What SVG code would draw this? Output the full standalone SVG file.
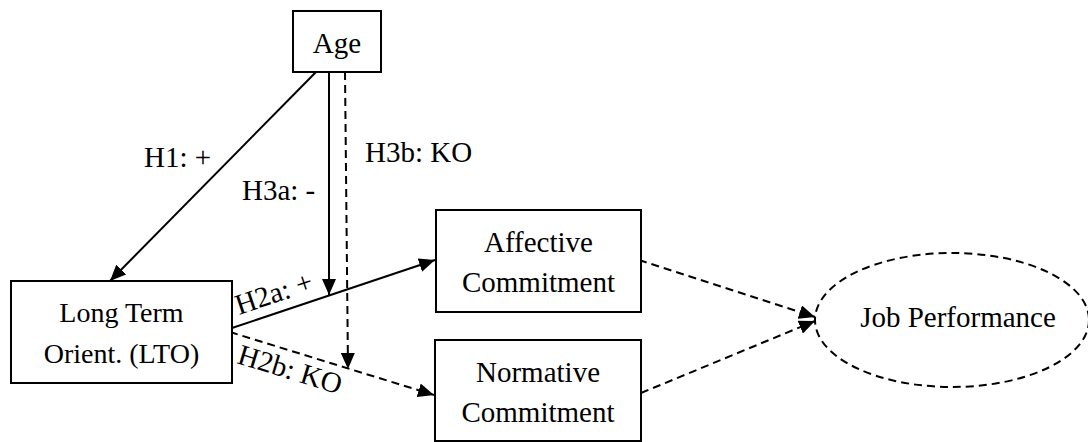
<svg xmlns="http://www.w3.org/2000/svg" width="1088" height="442" viewBox="0 0 1088 442">
<style>
.box{fill:#fff;stroke:#000;stroke-width:2}
.t{font-family:"Liberation Serif","Times New Roman",serif;font-size:29px;fill:#000}
.c{text-anchor:middle}
.ln{fill:none;stroke:#000;stroke-width:2}
.d{stroke-dasharray:8,5}
</style>
<defs>
<marker id="ah" markerUnits="userSpaceOnUse" markerWidth="16" markerHeight="14" refX="16" refY="7" orient="auto">
<path d="M0,0 L16,7 L0,14 z" fill="#000"/>
</marker>
</defs>
<rect width="1088" height="442" fill="#fff"/>
<g id="connectors">
<line class="ln" x1="316" y1="72" x2="110" y2="281" marker-end="url(#ah)"/>
<line class="ln" x1="329" y1="72" x2="329" y2="295" marker-end="url(#ah)"/>
<line class="ln d" x1="345" y1="72" x2="348" y2="369" marker-end="url(#ah)"/>
<line class="ln" x1="232" y1="328" x2="435" y2="260" marker-end="url(#ah)"/>
<line class="ln d" x1="230" y1="332" x2="434" y2="395" marker-end="url(#ah)"/>
<line class="ln d" x1="639" y1="260" x2="815" y2="317" marker-end="url(#ah)"/>
<line class="ln d" x1="641" y1="393" x2="815" y2="321" marker-end="url(#ah)"/>
<text class="t" x="144" y="167">H1: +</text>
<text class="t" x="242" y="200">H3a: -</text>
<text class="t" x="365" y="162">H3b: KO</text>
<text class="t" x="239" y="315" transform="rotate(-18.5 239 315)">H2a: +</text>
<text class="t" x="236" y="363" transform="rotate(17 236 363)">H2b: KO</text>
</g>
<g id="age">
<rect class="box" x="293" y="11" width="88" height="61"/>
<text class="t c" x="337" y="53">Age</text>
</g>
<g id="lto">
<rect class="box" x="11" y="281" width="221" height="102"/>
<text class="t c" x="121.5" y="322" style="font-size:28px">Long Term</text>
<text class="t c" x="121.5" y="363" style="font-size:28px">Orient. (LTO)</text>
</g>
<g id="affective">
<rect class="box" x="436" y="210" width="205" height="102"/>
<text class="t c" x="538.5" y="252">Affective</text>
<text class="t c" x="538.5" y="292">Commitment</text>
</g>
<g id="normative">
<rect class="box" x="435" y="340" width="206" height="101"/>
<text class="t c" x="538" y="382">Normative</text>
<text class="t c" x="538" y="422">Commitment</text>
</g>
<g id="job">
<ellipse class="ln d" cx="952" cy="320" rx="137" ry="67"/>
<text class="t c" x="958" y="327">Job Performance</text>
</g>
</svg>
